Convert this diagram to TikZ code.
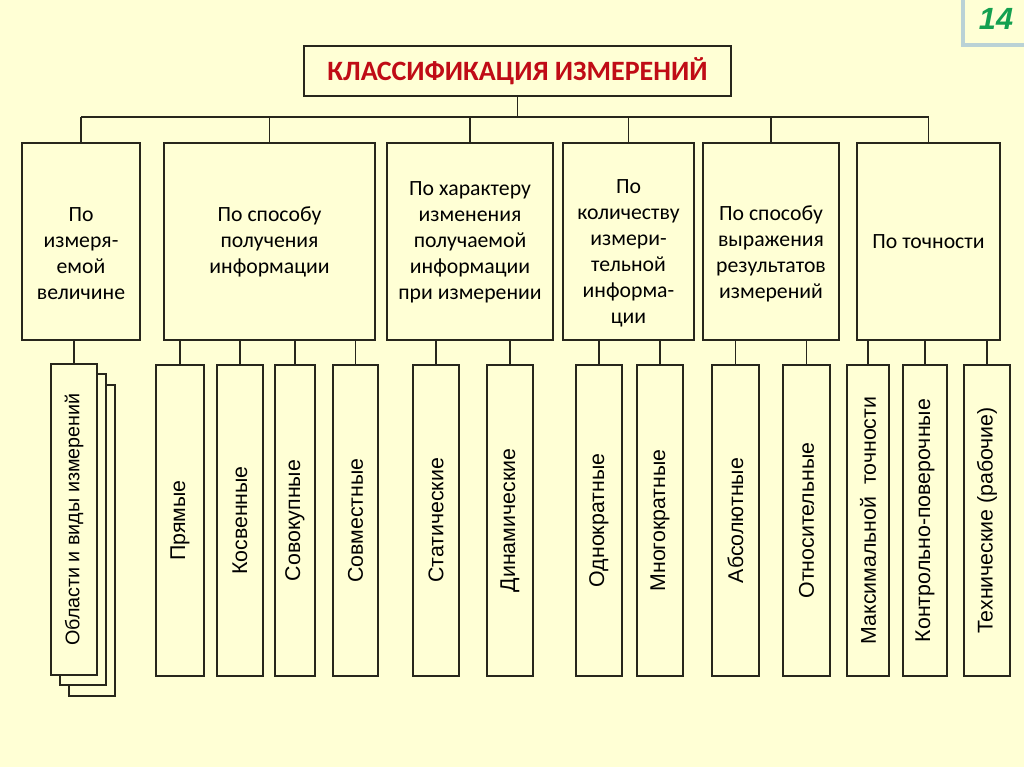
\documentclass[tikz,border=0pt]{standalone}
\usepackage{fontspec}
\setmainfont{Carlito}
\newfontfamily\leaffont{Liberation Sans}
\usetikzlibrary{positioning, calc}
\definecolor{clsBg}{RGB}{255,255,213}
\definecolor{clsLine}{RGB}{40,38,28}
\definecolor{clsRed}{RGB}{192,12,22}
\definecolor{clsGreen}{RGB}{20,160,80}
\definecolor{clsFrame}{RGB}{186,210,214}

\begin{document}
\begin{tikzpicture}[x=0.75pt, y=-0.75pt,
    box/.style={draw=clsLine, line width=1.2pt, fill=clsBg, inner sep=0pt, outer sep=0pt},
    cattxt/.style={font=\fontsize{16.3}{19.5}\selectfont, align=center},
    leaftxt/.style={font=\leaffont\fontsize{16}{19}\selectfont, rotate=90},
    conn/.style={draw=clsLine, line width=1.2pt}
  ]
  \useasboundingbox (0,0) rectangle (1024,767);
  \fill[clsBg] (0,0) rectangle (1024,767);

  % page number
  \draw[clsFrame, line width=3pt] (963,0) -- (963,45) -- (1024,45);
  \node[font=\leaffont\bfseries\itshape\fontsize{23}{23}\selectfont, text=clsGreen] (pg) at (996,19) {14};

  % title
  \node[box, minimum width={427*0.75pt}, minimum height={50*0.75pt},
        font=\bfseries\fontsize{21}{23}\selectfont, text=clsRed] (title) at (517.5,71)
       {КЛАССИФИКАЦИЯ ИЗМЕРЕНИЙ};
  \coordinate (bus) at (517.5,117);
  \draw[conn] (title.south) -- (bus);

  % classification criteria
  \foreach \n/\cx/\w/\dy/\t in {
      1/81/118/12/{По\\измеря-\\емой\\величине},
      2/269.5/211/0/{По способу\\получения\\информации},
      3/470/166/0.5/{По характеру\\изменения\\получаемой\\информации\\при измерении},
      4/628.5/131/12/{По\\количеству\\измери-\\тельной\\информа-\\ции},
      5/771/136/12/{По способу\\выражения\\результатов\\измерений},
      6/928.5/143/0/{По точности}} {
    \node[box, minimum width={\w*0.75pt}, minimum height={197*0.75pt}] (c\n) at (\cx,241.5) {};
    \node[cattxt] at (\cx,{241.5+\dy}) {\t};
    \draw[conn] (c\n.north) -- (c\n.north |- bus);
  }
  \draw[conn] (c1.north |- bus) -- (c6.north |- bus);

  % measurement kinds
  \node[box, minimum width={46*0.75pt}, minimum height={311*0.75pt}] (l1c) at (92,540.5) {};
  \node[box, minimum width={46*0.75pt}, minimum height={311*0.75pt}] (l1b) at (83,529.5) {};
  \node[box, minimum width={46*0.75pt}, minimum height={311*0.75pt}] (l1) at (74,519.5) {};
  \node[leaftxt, font=\leaffont\fontsize{14.8}{18}\selectfont] at (l1) {Области и виды измерений};
  \draw[conn] (l1.north) -- (l1.north |- c1.south);

  \foreach \n/\cx/\w/\p/\t in {
      2/180/48/c2/Прямые, 3/240/46/c2/Косвенные, 4/295/40/c2/Совокупные,
      5/355.5/45/c2/Совместные,
      6/436/46/c3/Статические, 7/510/46/c3/Динамические,
      8/599/46/c4/Однократные, 9/660/46/c4/Многократные,
      10/735.5/47/c5/Абсолютные, 11/806.5/47/c5/Относительные,
      12/868/42/c6/{Максимальной~~точности}, 13/925/44/c6/Контрольно-поверочные,
      14/987/46/c6/{Технические (рабочие)}} {
    \node[box, minimum width={\w*0.75pt}, minimum height={311*0.75pt}] (l\n) at (\cx,520.5) {};
    \node[leaftxt] at (l\n) {\t};
    \draw[conn] (l\n.north) -- (l\n.north |- \p.south);
  }
\end{tikzpicture}
\end{document}
